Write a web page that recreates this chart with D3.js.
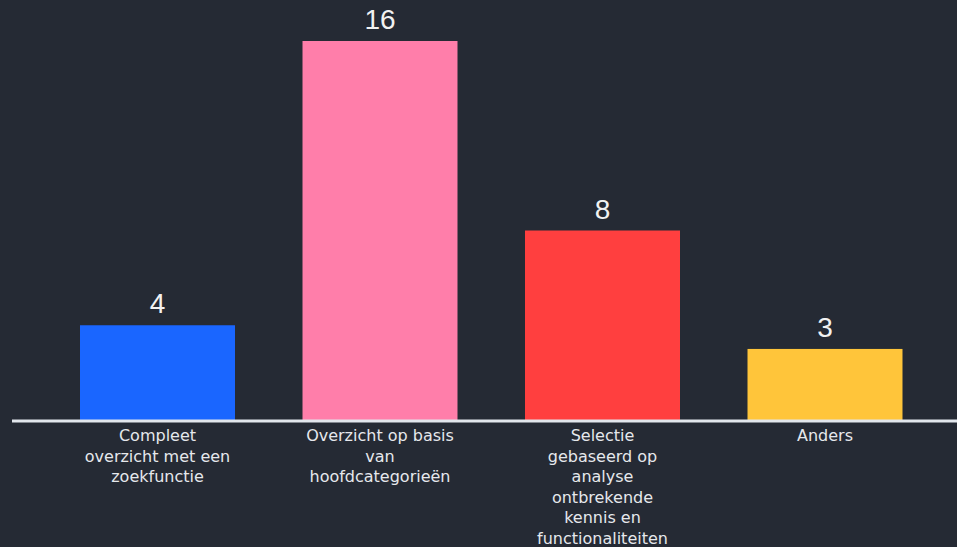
<!DOCTYPE html>
<html>
<head>
<meta charset="utf-8">
<script src="https://cdn.jsdelivr.net/npm/d3@7"></script>
<style>
  html, body { margin: 0; padding: 0; background: #252a34; }
  svg { display: block; }
</style>
</head>
<body>
<svg id="chart" width="957" height="547"></svg>
<script>
const categories = [
  "Compleet\noverzicht met een\nzoekfunctie",
  "Overzicht op basis\nvan\nhoofdcategorieën",
  "Selectie\ngebaseerd op\nanalyse\nontbrekende\nkennis en\nfunctionaliteiten",
  "Anders"
];
const values = [4, 16, 8, 3];
const colors = ["#1a66ff", "#ff7eaa", "#ff3f3f", "#ffc53a"];

const W = 957, H = 547;
const svg = d3.select("#chart");
svg.append("rect").attr("width", W).attr("height", H).attr("fill", "#252a34");

const x = d3.scaleBand()
  .domain(d3.range(categories.length))
  .range([46.25, 936.25])
  .paddingInner(0.3034)
  .paddingOuter(0.1517);

const y = d3.scaleLinear().domain([0, 16]).range([420, 41]);

svg.append("g").selectAll("rect")
  .data(values)
  .join("rect")
  .attr("x", (d, i) => x(i))
  .attr("width", x.bandwidth())
  .attr("y", d => y(d))
  .attr("height", d => y(0) - y(d))
  .attr("fill", (d, i) => colors[i]);

svg.append("g").selectAll("text")
  .data(values)
  .join("text")
  .attr("x", (d, i) => x(i) + x.bandwidth() / 2)
  .attr("y", d => y(d) - 12)
  .attr("text-anchor", "middle")
  .attr("fill", "#f2f2f2")
  .attr("font-family", "'Liberation Sans', Arial, sans-serif")
  .attr("font-size", 28)
  .text(d => d);

svg.append("line")
  .attr("x1", 12).attr("x2", W)
  .attr("y1", y(0) + 1).attr("y2", y(0) + 1)
  .attr("stroke", "#e2e6ec")
  .attr("stroke-width", 3);

const lab = svg.append("g").selectAll("text")
  .data(categories)
  .join("text")
  .attr("x", (d, i) => x(i) + x.bandwidth() / 2)
  .attr("y", 441)
  .attr("text-anchor", "middle")
  .attr("fill", "#e6e8ec")
  .attr("font-family", "'DejaVu Sans', sans-serif")
  .attr("font-size", 16);

lab.each(function(d) {
  const t = d3.select(this);
  d.split("\n").forEach((line, k) => {
    t.append("tspan")
      .attr("x", t.attr("x"))
      .attr("dy", k === 0 ? 0 : 20.5)
      .text(line);
  });
});
</script>
</body>
</html>
